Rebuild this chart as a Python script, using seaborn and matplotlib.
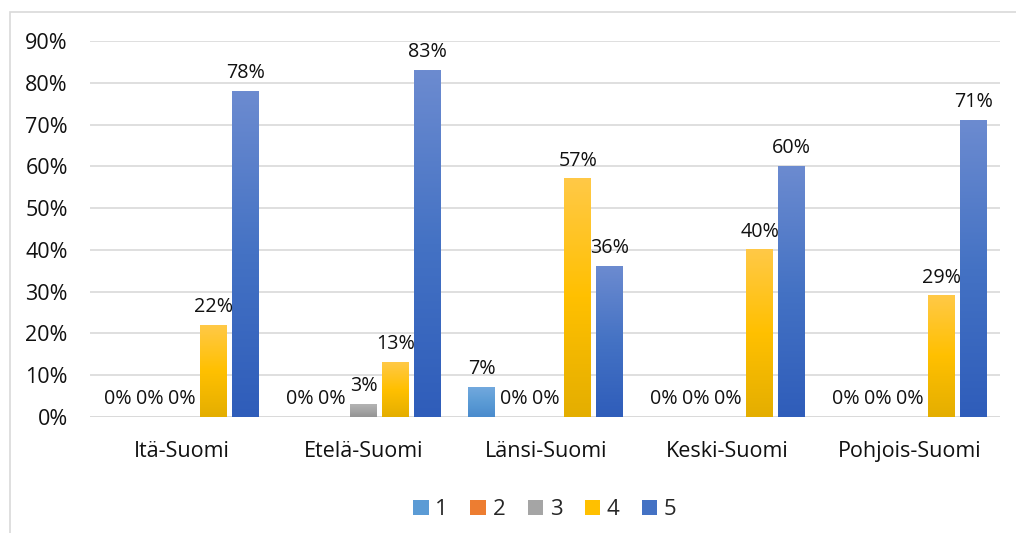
import numpy as np
import pandas as pd
import matplotlib
matplotlib.use("Agg")
import matplotlib.pyplot as plt
import seaborn as sns
from matplotlib.colors import LinearSegmentedColormap, to_rgb
from matplotlib.patches import Rectangle
from matplotlib.ticker import FuncFormatter, MultipleLocator

# Regions and the share of answers (%) for each rating 1..5
regions = ["Itä-Suomi", "Etelä-Suomi", "Länsi-Suomi", "Keski-Suomi", "Pohjois-Suomi"]
ratings = ["1", "2", "3", "4", "5"]
rating_1 = [0, 0, 7, 0, 0]
rating_2 = [0, 0, 0, 0, 0]
rating_3 = [0, 3, 0, 0, 0]
rating_4 = [22, 13, 57, 40, 29]
rating_5 = [78, 83, 36, 60, 71]

series = [rating_1, rating_2, rating_3, rating_4, rating_5]
df = pd.DataFrame(
    [(reg, r, v) for r, vals in zip(ratings, series) for reg, v in zip(regions, vals)],
    columns=["Alue", "Arvo", "Osuus"],
)

base = ["#5B9BD5", "#ED7D31", "#A5A5A5", "#FFC000", "#4472C4"]
# (top, middle, bottom) stops for the vertical fill of each series
stops = [
    ("#72A9DE", "#5B9BD5", "#4A8BCD"),
    ("#F39050", "#ED7D31", "#DB6A1E"),
    ("#B4B4B4", "#A5A5A5", "#939393"),
    ("#FFC947", "#FFC000", "#E4AE00"),
    ("#6C8BD0", "#4472C4", "#2F5DBA"),
]

sns.set_theme(style="white")
plt.rcParams["font.family"] = ["Open Sans", "DejaVu Sans"]

fig = plt.figure(figsize=(10.16, 5.33), dpi=100)
ax = fig.add_axes([0.0886, 0.2176, 0.8954, 0.7055])

sns.barplot(
    data=df, x="Alue", y="Osuus", hue="Arvo", palette=base,
    width=0.88, gap=0.16, ax=ax, saturation=1, edgecolor="none",
    order=regions, hue_order=ratings,
)

ax.set_xlim(-0.505, 4.495)
ax.set_ylim(0, 90)
ax.yaxis.set_major_locator(MultipleLocator(10))
ax.yaxis.set_major_formatter(FuncFormatter(lambda v, _: f"{v:.0f}%"))
ax.grid(axis="y", color="#D9D9D9", linewidth=1.2)
ax.set_axisbelow(True)
for s in ax.spines.values():
    s.set_visible(False)
ax.set_xlabel("")
ax.set_ylabel("")
ax.tick_params(axis="both", length=0, labelsize=15.5, colors="#111111")
ax.tick_params(axis="x", pad=17)
ax.tick_params(axis="y", pad=16)
ax.axhline(0, color="#D9D9D9", linewidth=1.2, zorder=1)

# Vertical gradient fill inside each bar
for cont, (top, mid, bot) in zip(ax.containers, stops):
    cmap = LinearSegmentedColormap.from_list("g", [to_rgb(bot), to_rgb(mid), to_rgb(top)])
    grad = np.linspace(0, 1, 256).reshape(-1, 1)
    for bar in cont:
        h = bar.get_height()
        if h <= 0:
            continue
        x0 = bar.get_x()
        w = bar.get_width()
        ax.imshow(grad, cmap=cmap, origin="lower", aspect="auto",
                  extent=[x0, x0 + w, 0, h], zorder=2, interpolation="bilinear")
        bar.set_facecolor("none")
    ax.bar_label(cont, labels=[f"{b.get_height():.0f}%" for b in cont],
                 padding=6, fontsize=14.2, color="#111111")

ax.set_xlim(-0.505, 4.495)
ax.set_ylim(0, 90)

sns.move_legend(ax, "upper center", bbox_to_anchor=(0.5, -0.165), ncol=5,
                frameon=False, title=None, fontsize=16, handlelength=0.7,
                handleheight=0.7, handletextpad=0.3, columnspacing=1.0)

# Light frame around the chart area
fig.patches.append(Rectangle((10 / 1016, -0.05), 1.2, 1 - 12 / 533 + 0.05,
                             transform=fig.transFigure, fill=False,
                             edgecolor="#D9D9D9", linewidth=1.2))

fig.savefig("out.png", dpi=100)
